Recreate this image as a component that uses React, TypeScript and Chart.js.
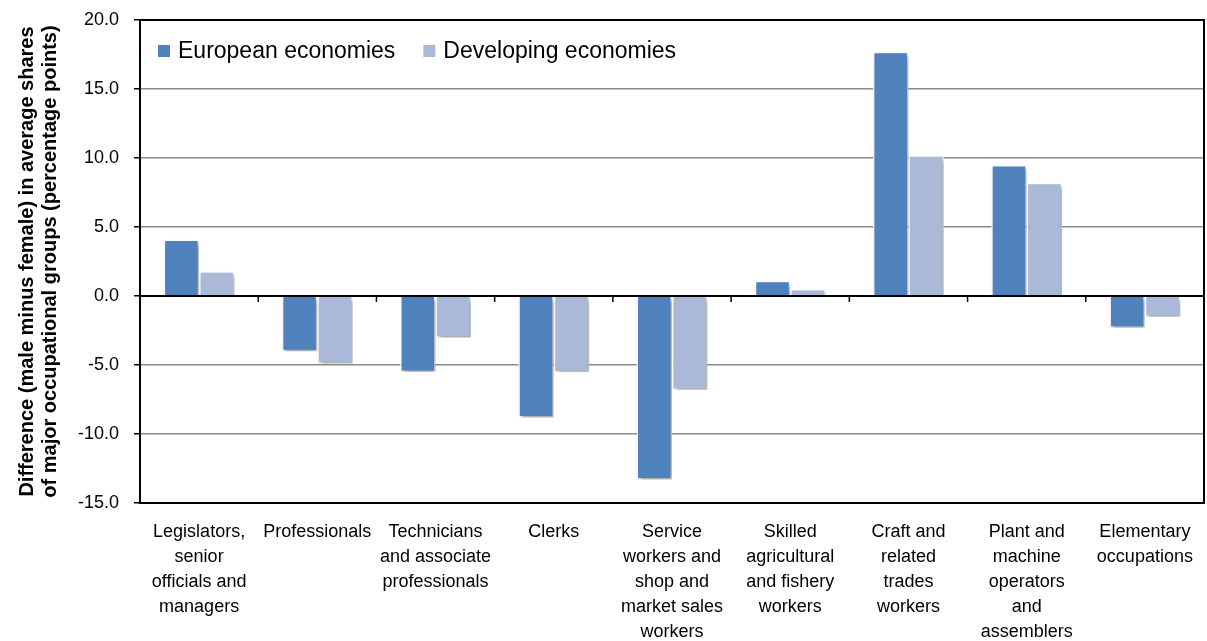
import React, { useEffect, useRef } from "react";
import { Chart, registerables } from "chart.js";

Chart.register(...registerables);

const categories: string[][] = [
  ["Legislators,", "senior", "officials and", "managers"],
  ["Professionals"],
  ["Technicians", "and associate", "professionals"],
  ["Clerks"],
  ["Service", "workers and", "shop and", "market sales", "workers"],
  ["Skilled", "agricultural", "and fishery", "workers"],
  ["Craft and", "related", "trades", "workers"],
  ["Plant and", "machine", "operators", "and", "assemblers"],
  ["Elementary", "occupations"],
];

const europeanValues = [4.1, -4.0, -5.5, -8.8, -13.3, 1.1, 17.7, 9.5, -2.3];
const developingValues = [1.8, -4.9, -3.0, -5.5, -6.8, 0.5, 10.2, 8.2, -1.5];

const seriesNames = ["European economies", "Developing economies"];
const seriesColors = ["#4F81BD", "#AAB9D7"];
const yAxisTitle = [
  "Difference (male minus female) in average shares",
  "of major occupational groups (percentage points)",
];

const FONT = "'Liberation Sans', 'DejaVu Sans', sans-serif";

const shadowPlugin = {
  id: "barShadow",
  beforeDatasetsDraw(chart: any) {
    const ctx = chart.ctx;
    ctx.save();
    ctx.shadowColor = "rgba(0,0,0,0.35)";
    ctx.shadowBlur = 4;
    ctx.shadowOffsetX = 2;
    ctx.shadowOffsetY = 3;
  },
  afterDatasetsDraw(chart: any) {
    chart.ctx.restore();
  },
};

const axisPlugin = {
  id: "axisDecor",
  afterDatasetsDraw(chart: any) {
    const ctx = chart.ctx;
    const { left, right, top, bottom } = chart.chartArea;
    const xs = chart.scales.x;
    const ys = chart.scales.y;
    const y0 = ys.getPixelForValue(0);
    ctx.save();
    ctx.strokeStyle = "#000";
    ctx.lineWidth = 2;
    ctx.strokeRect(left, top, right - left, bottom - top);
    ctx.beginPath();
    ctx.moveTo(left, y0);
    ctx.lineTo(right, y0);
    ctx.stroke();
    const n = categories.length;
    ctx.lineWidth = 1.5;
    for (let i = 0; i <= n; i++) {
      let x: number;
      if (i === 0) x = left;
      else if (i === n) x = right;
      else x = (xs.getPixelForValue(i - 1) + xs.getPixelForValue(i)) / 2;
      ctx.beginPath();
      ctx.moveTo(x, y0);
      ctx.lineTo(x, y0 + 6);
      ctx.stroke();
    }
    ctx.restore();
  },
};

const legendPlugin = {
  id: "insideLegend",
  afterDraw(chart: any) {
    const ctx = chart.ctx;
    const { left, top } = chart.chartArea;
    ctx.save();
    ctx.font = `23px ${FONT}`;
    ctx.textBaseline = "middle";
    ctx.textAlign = "left";
    let x = left + 18;
    const yc = top + 31;
    chart.data.datasets.forEach((ds: any) => {
      ctx.fillStyle = ds.backgroundColor;
      ctx.fillRect(x, yc - 6, 12, 12);
      ctx.fillStyle = "#000";
      ctx.fillText(ds.label, x + 20, yc + 1);
      x += 20 + ctx.measureText(ds.label).width + 28;
    });
    ctx.restore();
  },
};

export default function App() {
  const canvasRef = useRef<HTMLCanvasElement | null>(null);

  useEffect(() => {
    if (!canvasRef.current) return;
    const chart = new Chart(canvasRef.current, {
      type: "bar",
      data: {
        labels: categories,
        datasets: [
          {
            label: seriesNames[0],
            data: europeanValues,
            backgroundColor: seriesColors[0],
            borderColor: "#FFFFFF",
            borderWidth: 1.5,
          },
          {
            label: seriesNames[1],
            data: developingValues,
            backgroundColor: seriesColors[1],
            borderColor: "#FFFFFF",
            borderWidth: 1.5,
          },
        ],
      },
      options: {
        responsive: true,
        maintainAspectRatio: false,
        animation: false,
        layout: { padding: { top: 20, right: 3, left: 0, bottom: 0 } },
        datasets: {
          bar: { categoryPercentage: 0.6, barPercentage: 1.0 },
        },
        plugins: {
          tooltip: { enabled: false },
          legend: { display: false },
        },
        scales: {
          x: {
            grid: { display: false, drawTicks: false },
            border: { display: false },
            ticks: {
              color: "#000",
              font: { family: FONT, size: 18, lineHeight: "25px" } as any,
              maxRotation: 0,
              autoSkip: false,
              padding: 17,
            },
            afterFit(scale: any) {
              scale.height = 138;
              scale.paddingLeft = 0;
              scale.paddingRight = 0;
            },
          },
          y: {
            min: -15,
            max: 20,
            border: { display: true, color: "#000", width: 2 },
            grid: {
              color: (c: any) => (c.tick && c.tick.value === 0 ? "rgba(0,0,0,0)" : "#8A8A8A"),
              lineWidth: 1.5,
              tickColor: "#000",
              tickLength: 6,
            },
            ticks: {
              stepSize: 5,
              color: "#000",
              font: { family: FONT, size: 18 },
              padding: 15,
              callback: (v: any) => Number(v).toFixed(1),
            },
            title: {
              display: true,
              text: yAxisTitle,
              color: "#000",
              font: { family: FONT, size: 20, weight: "bold", lineHeight: "23px" } as any,
              padding: { top: 16, bottom: 0 },
            },
            afterFit(scale: any) {
              scale.width = 140;
              scale.paddingTop = 10;
              scale.paddingBottom = 10;
            },
          },
        },
      },
      plugins: [shadowPlugin, axisPlugin, legendPlugin],
    });
    return () => chart.destroy();
  }, []);

  return (
    <div style={{ position: "fixed", left: 0, top: 0, width: 1207, height: 641, background: "#fff" }}>
      <canvas ref={canvasRef} />
    </div>
  );
}
